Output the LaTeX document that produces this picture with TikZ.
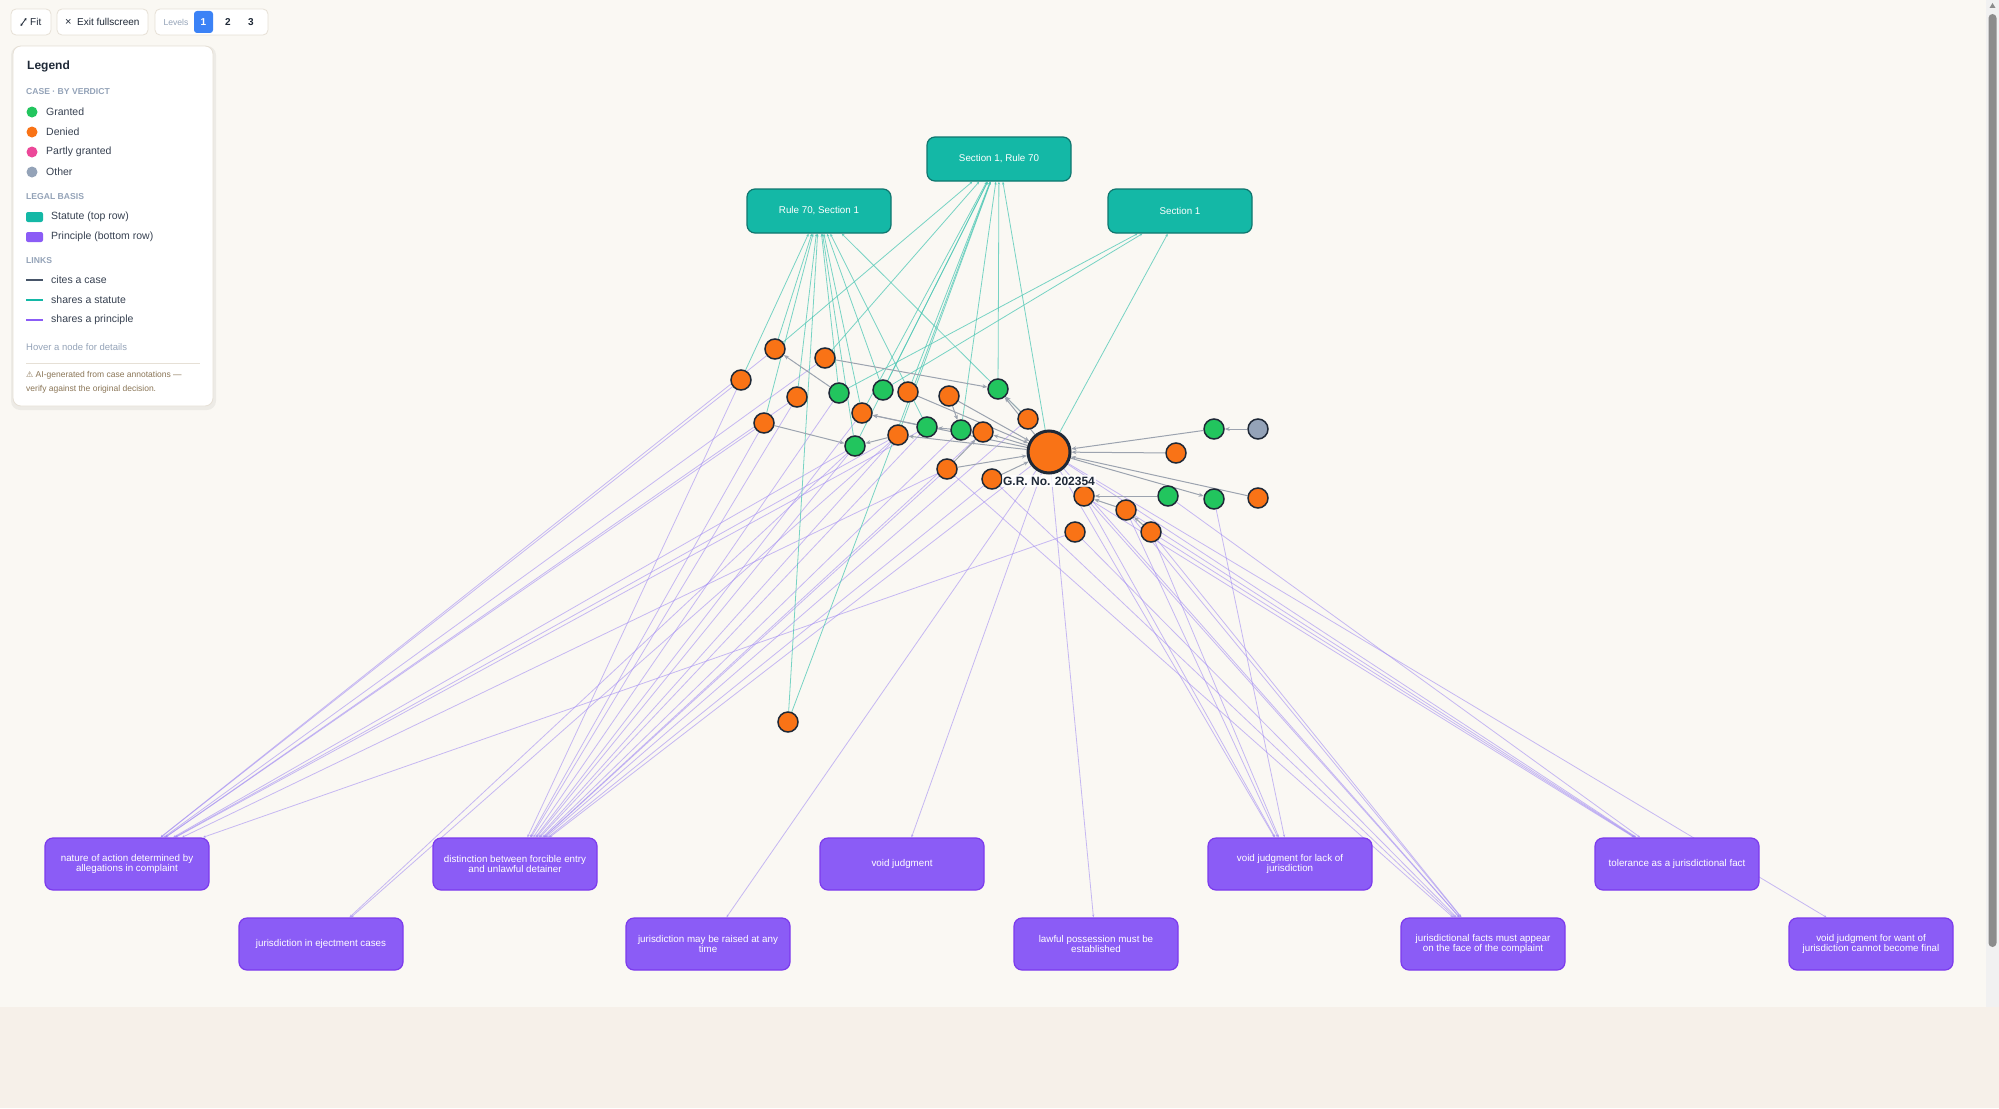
\documentclass[tikz,border=0pt]{standalone}
\usepackage{fontspec}
\setmainfont{Liberation Sans}
\newfontfamily\symfont{DejaVu Sans}
\usepackage{tikz}
\usetikzlibrary{arrows.meta}

\definecolor{paper}{HTML}{FAF8F3}
\definecolor{pagebot}{HTML}{F6F0E9}
\definecolor{granted}{HTML}{22C55E}
\definecolor{denied}{HTML}{F97316}
\definecolor{partly}{HTML}{EC4899}
\definecolor{othergray}{HTML}{94A3B8}
\definecolor{ink}{HTML}{1F2937}
\definecolor{statfill}{HTML}{14B8A6}
\definecolor{statdraw}{HTML}{0F766E}
\definecolor{prinfill}{HTML}{8B5CF6}
\definecolor{prindraw}{HTML}{7C3AED}
\definecolor{citegray}{HTML}{9CA3AF}
\definecolor{statline}{HTML}{4CC7B4}
\definecolor{prinline}{HTML}{A38CF2}
\definecolor{slate}{HTML}{475569}
\definecolor{headgray}{HTML}{94A3B8}
\definecolor{itemtext}{HTML}{374151}
\definecolor{warnbrown}{HTML}{8A7556}
\definecolor{btnline}{HTML}{E6E0D6}
\definecolor{levelblue}{HTML}{3B82F6}
\definecolor{trackgray}{HTML}{F1F1F1}
\definecolor{thumbgray}{HTML}{8C8C8C}

\newcommand\fsz[1]{\fontsize{#1}{10}\selectfont}

\pgfdeclarelayer{back}
\pgfdeclarelayer{wires}
\pgfsetlayers{back,wires,main}

\begin{document}
\begin{tikzpicture}[x=1pt, y=-1pt,
  case/.style={circle, draw=ink, line width=1.5pt, minimum size=20pt, inner sep=0pt},
  won/.style={case, fill=granted},
  lost/.style={case, fill=denied},
  otherv/.style={case, fill=othergray},
  statute/.style={rectangle, rounded corners=8pt, fill=statfill, draw=statdraw, line width=1.2pt,
    minimum width=144pt, minimum height=44pt, text=white, font=\fsz{9.8}},
  principle/.style={rectangle, rounded corners=8pt, fill=prinfill, draw=prindraw, line width=1.2pt,
    minimum width=164pt, minimum height=52pt, text=white, align=center, font=\fsz{9.8}},
  citeedge/.style={draw=citegray, line width=1pt, -{Stealth[length=5pt,width=4pt]}},
  statedge/.style={draw=statline, line width=0.8pt, opacity=0.75, -{Stealth[length=3pt,width=2.5pt]}},
  prinedge/.style={draw=prinline, line width=0.8pt, opacity=0.6, -{Stealth[length=3pt,width=2.5pt]}},
  button/.style={draw=btnline, fill=white, rounded corners=5pt, line width=0.8pt},
  lghead/.style={anchor=west, font=\bfseries\fsz{8.6}, text=headgray},
  lgitem/.style={anchor=west, font=\fsz{10.5}, text=itemtext}]

\useasboundingbox (0,0) rectangle (1999,1108);
\begin{pgfonlayer}{back}
\fill[paper] (0,0) rectangle (1999,1108);
\fill[pagebot] (0,1007) rectangle (1999,1108);
\fill[trackgray] (1986,0) rectangle (1999,1007);
\fill[thumbgray, rounded corners=4pt] (1988.5,14) rectangle (1996.5,947);
\fill[thumbgray] (1992.5,3) -- (1989.5,8) -- (1995.5,8) -- cycle;
\end{pgfonlayer}

\draw[button] (11,9) rectangle (51,35);
\draw[ink, line width=0.8pt, {Stealth[length=2.5pt,width=2.5pt]}-{Stealth[length=2.5pt,width=2.5pt]}] (20.5,26) -- (26.5,18);
\node[anchor=west, font=\fsz{10}, text=ink, inner sep=0pt] (fit) at (30,22) {Fit};
\draw[button] (57,9) rectangle (148,35);
\node[anchor=west, font=\fsz{11}, text=ink, inner sep=0pt] (exitx) at (65,22) {×};
\node[anchor=west, font=\fsz{10}, text=ink, inner sep=0pt] (exit) at (77,22) {Exit fullscreen};
\draw[button] (155,9) rectangle (268,35);
\node[font=\fsz{8.6}, text=headgray] (levels) at (176,22) {Levels};
\fill[levelblue, rounded corners=3pt] (194,11) rectangle (213,33);
\node[font=\bfseries\fsz{10}, text=white] (lvone) at (203.5,22) {1};
\node[font=\bfseries\fsz{10}, text=ink] (lvtwo) at (228,22) {2};
\node[font=\bfseries\fsz{10}, text=ink] (lvthree) at (251,22) {3};

\fill[black, opacity=0.05, rounded corners=9pt] (11,46) rectangle (216,410);
\draw[fill=white, draw=btnline, line width=0.8pt, rounded corners=8pt] (13,46) rectangle (213,406);
\node[anchor=west, font=\bfseries\fsz{12}, text=ink, inner sep=0pt] (lgtitle) at (27,66) {Legend};
\node[lghead, inner sep=0pt] (lgcase) at (26,92) {CASE · BY VERDICT};
\fill[granted] (32,112) circle (5.5);
\fill[denied] (32,132) circle (5.5);
\fill[partly] (32,152) circle (5.5);
\fill[othergray] (32,172) circle (5.5);
\node[lgitem, inner sep=0pt] (lggranted) at (46,112) {Granted};
\node[lgitem, inner sep=0pt] (lgdenied) at (46,132) {Denied};
\node[lgitem, inner sep=0pt] (lgpartly) at (46,152) {Partly granted};
\node[lgitem, inner sep=0pt] (lgother) at (46,172) {Other};
\node[lghead, inner sep=0pt] (lgbasis) at (26,197) {LEGAL BASIS};
\fill[statfill, rounded corners=2pt] (26,212) rectangle (43,222);
\fill[prinfill, rounded corners=2pt] (26,232) rectangle (43,242);
\node[lgitem, inner sep=0pt] (lgstat) at (51,217) {Statute (top row)};
\node[lgitem, inner sep=0pt] (lgprin) at (51,237) {Principle (bottom row)};
\node[lghead, inner sep=0pt] (lglinks) at (26,261) {LINKS};
\draw[slate, line width=2.5pt] (26,280) -- (43,280);
\draw[statfill, line width=2.5pt] (26,300) -- (43,300);
\draw[prinfill, line width=2.5pt] (26,320) -- (43,320);
\node[lgitem, inner sep=0pt] (lgcite) at (51,280) {cites a case};
\node[lgitem, inner sep=0pt] (lgshst) at (51,300) {shares a statute};
\node[lgitem, inner sep=0pt] (lgshpr) at (51,320) {shares a principle};
\node[anchor=west, font=\fsz{9.5}, text=headgray, inner sep=0pt] (lghover) at (26,347) {Hover a node for details};
\draw[btnline, line width=0.8pt] (26,363) -- (200,363);
\node[anchor=west, font=\fsz{8.5}, text=warnbrown, inner sep=0pt] (lgwarn) at (26,375) {{\symfont\fsz{8}⚠} AI-generated from case annotations —};
\node[anchor=west, font=\fsz{8.5}, text=warnbrown, inner sep=0pt] (lgwarntwo) at (26,389) {verify against the original decision.};

\node[statute] (s1) at (999,159) {Section 1, Rule 70};
\node[statute] (s2) at (819,211) {Rule 70, Section 1};
\node[statute] (s3) at (1180,211) {Section 1};

\node[principle] (p1) at (127,864) {nature of action determined by\\allegations in complaint};
\node[principle] (p2) at (515,864) {distinction between forcible entry\\and unlawful detainer};
\node[principle] (p3) at (902,864) {void judgment};
\node[principle] (p7) at (1290,864) {void judgment for lack of\\jurisdiction};
\node[principle] (p9) at (1677,864) {tolerance as a jurisdictional fact};
\node[principle] (p4) at (321,944) {jurisdiction in ejectment cases};
\node[principle] (p5) at (708,944) {jurisdiction may be raised at any\\time};
\node[principle] (p6) at (1096,944) {lawful possession must be\\established};
\node[principle] (p8) at (1483,944) {jurisdictional facts must appear\\on the face of the complaint};
\node[principle] (p10) at (1871,944) {void judgment for want of\\jurisdiction cannot become final};

\node[lost] (c1) at (775,349) {};
\node[lost] (c2) at (825,358) {};
\node[lost] (c3) at (741,380) {};
\node[won] (c4) at (839,393) {};
\node[won] (c5) at (883,390) {};
\node[lost] (c6) at (908,392) {};
\node[lost] (c7) at (949,396) {};
\node[won] (c8) at (998,389) {};
\node[lost] (c9) at (797,397) {};
\node[lost] (c10) at (862,413) {};
\node[lost] (c11) at (764,423) {};
\node[won] (c12) at (927,427) {};
\node[won] (c13) at (961,430) {};
\node[lost] (c14) at (983,432) {};
\node[lost] (c15) at (898,435) {};
\node[won] (c16) at (855,446) {};
\node[lost] (c17) at (947,469) {};
\node[lost] (c18) at (992,479) {};
\node[lost] (c19) at (1028,419) {};
\node[won] (c21) at (1214,429) {};
\node[otherv] (c22) at (1258,429) {};
\node[lost] (c23) at (1176,453) {};
\node[lost] (c24) at (1084,496) {};
\node[won] (c25) at (1168,496) {};
\node[won] (c26) at (1214,499) {};
\node[lost] (c27) at (1258,498) {};
\node[lost] (c28) at (1126,510) {};
\node[lost] (c29) at (1075,532) {};
\node[lost] (c30) at (1151,532) {};
\node[lost] (c31) at (788,722) {};
\node[case, fill=denied, draw=ink, line width=3pt, minimum size=42pt] (gr) at (1049,452) {};
\node[font=\bfseries\fsz{12}, text=ink, fill=white, fill opacity=0.8, text opacity=1, inner sep=1.5pt] (grlabel) at (1049,481) {G.R. No. 202354};

\begin{pgfonlayer}{wires}
\foreach \a in {c3,c1,c11,c9,c2,c16,c15,c12,c29,c17}
  \draw[prinedge] (\a) -- (p1);
\foreach \a in {c11,c9,c4,c16,c10,c15,c13,c14,c17,c18,gr,c19,c3,c12}
  \draw[prinedge] (\a) -- (p2);
\foreach \a in {c16,c15}
  \draw[prinedge] (\a) -- (p4);
\foreach \a in {p3,p5,p6,p10}
  \draw[prinedge] (gr) -- (\a);
\foreach \a in {gr,c24,c28,c26,c30}
  \draw[prinedge] (\a) -- (p7);
\foreach \a in {gr,c24,c28,c29,c30,c18,c17}
  \draw[prinedge] (\a) -- (p8);
\foreach \a in {gr,c25,c24,c30,c28}
  \draw[prinedge] (\a) -- (p9);

\foreach \a in {c1,c3,c11,c9,c31,c4,c10,c12,c19,c16,c5}
  \draw[statedge] (\a) -- (s2);
\foreach \a in {c1,c2,c5,c6,c8,gr,c31,c15,c16,c10,c13}
  \draw[statedge] (\a) -- (s1);
\foreach \a in {gr,c4,c5}
  \draw[statedge] (\a) -- (s3);

\foreach \a/\b in {c2/c8,c4/c1,c11/c16,c15/c16,c12/c10,gr/c10,c13/c12,gr/c15,c7/c13,
    c6/gr,c7/gr,gr/c14,c17/gr,c17/c14,c18/gr,c19/c8,gr/c8,c21/gr,c22/c21,c23/gr,
    c25/c24,gr/c26,c27/gr,c28/c24,c30/c28}
  \draw[citeedge] (\a) -- (\b);
\end{pgfonlayer}
\end{tikzpicture}
\end{document}
